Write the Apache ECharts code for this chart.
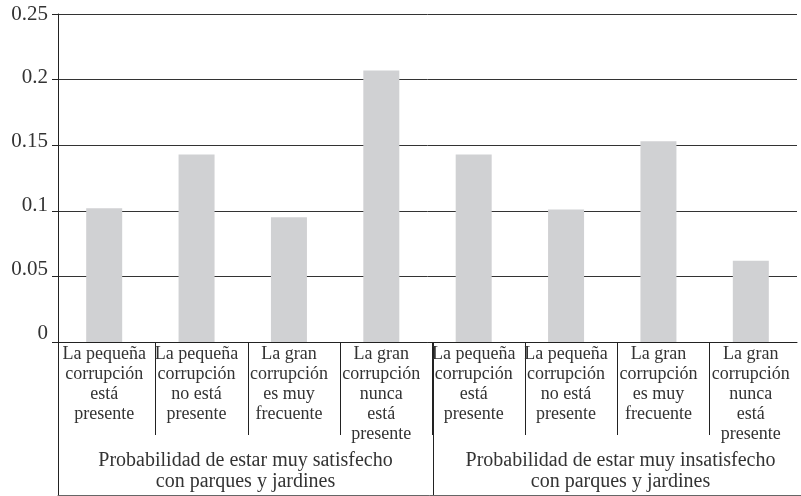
<!DOCTYPE html>
<html>
<head>
<meta charset="utf-8">
<script src="https://cdn.jsdelivr.net/npm/echarts@6/dist/echarts.min.js"></script>
<style>
    html, body {margin: 0; padding: 0; background: #fff;}
    #chart {width: 801px; height: 496px;}
</style>
</head>
<body>
<div id="chart"></div>
<script>
    var categories = [
        'La pequeña\ncorrupción\nestá\npresente',
        'La pequeña\ncorrupción\nno está\npresente',
        'La gran\ncorrupción\nes muy\nfrecuente',
        'La gran\ncorrupción\nnunca\nestá\npresente',
        'La pequeña\ncorrupción\nestá\npresente',
        'La pequeña\ncorrupción\nno está\npresente',
        'La gran\ncorrupción\nes muy\nfrecuente',
        'La gran\ncorrupción\nnunca\nestá\npresente'
    ];
    var groups = [
        'Probabilidad de estar muy satisfecho\ncon parques y jardines',
        'Probabilidad de estar muy insatisfecho\ncon parques y jardines'
    ];
    var values = [0.102, 0.143, 0.095, 0.207, 0.143, 0.101, 0.153, 0.062];
    var yTicks = [0, 0.05, 0.1, 0.15, 0.2, 0.25];

    var serif = 'Liberation Serif';
    var ink = '#222';
    var textColor = '#333';

    var myChart = echarts.init(document.getElementById('chart'));
    var option = {
        animation: false,
        backgroundColor: '#fff',
        grid: [
            {left: 58, right: 4, top: 14, bottom: 154, outerBoundsMode: 'none'},
            {left: 63, width: 739, top: 342, bottom: 61, outerBoundsMode: 'none'},
            {left: 58, width: 750, top: 342, bottom: 1, outerBoundsMode: 'none'}
        ],
        xAxis: [
            {
                type: 'category',
                gridIndex: 0,
                data: categories,
                axisLine: {lineStyle: {color: ink, width: 1}},
                axisTick: {show: false},
                axisLabel: {
                    interval: 0,
                    margin: 2,
                    color: textColor,
                    fontFamily: serif,
                    fontSize: 18,
                    lineHeight: 20
                }
            },
            {
                type: 'category',
                gridIndex: 1,
                data: categories,
                axisLine: {show: false},
                axisTick: {show: false},
                axisLabel: {show: false},
                splitLine: {
                    show: true,
                    interval: 0,
                    showMinLine: false,
                    showMaxLine: false,
                    lineStyle: {color: ink, width: 1}
                }
            },
            {
                type: 'category',
                gridIndex: 2,
                data: groups,
                axisLine: {lineStyle: {color: '#666', width: 1}},
                axisTick: {show: false},
                axisLabel: {
                    inside: true,
                    interval: 0,
                    margin: 3,
                    color: textColor,
                    fontFamily: serif,
                    fontSize: 20,
                    lineHeight: 21
                },
                splitLine: {
                    show: true,
                    interval: 0,
                    showMinLine: true,
                    showMaxLine: false,
                    lineStyle: {color: ink, width: 1}
                }
            }
        ],
        yAxis: [
            {
                type: 'value',
                gridIndex: 0,
                min: 0,
                max: 0.25,
                interval: 0.05,
                axisLine: {show: true, lineStyle: {color: ink, width: 1}},
                axisTick: {show: true, length: 6, lineStyle: {color: ink}},
                axisLabel: {show: false},
                splitLine: {show: true, lineStyle: {color: '#333', width: 1}}
            },
            {
                // label-only axis, the printed labels drift slightly upward toward 0
                type: 'value',
                gridIndex: 0,
                position: 'left',
                min: -0.00705,
                max: 0.25,
                axisLine: {show: false},
                axisTick: {show: false},
                splitLine: {show: false},
                axisLabel: {
                    customValues: yTicks,
                    margin: 10,
                    color: textColor,
                    fontFamily: serif,
                    fontSize: 21
                }
            },
            {type: 'value', gridIndex: 1, show: false},
            {type: 'value', gridIndex: 2, show: false}
        ],
        series: [
            {
                type: 'bar',
                xAxisIndex: 0,
                yAxisIndex: 0,
                data: values,
                barWidth: 36,
                itemStyle: {color: '#d0d1d3'}
            }
        ]
    };
    myChart.setOption(option);
</script>
</body>
</html>
